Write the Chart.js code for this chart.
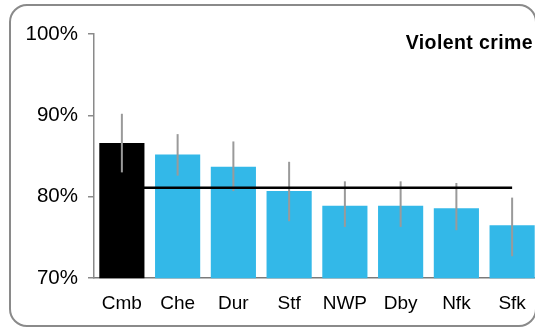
<!DOCTYPE html>
<html>
<head>
<meta charset="utf-8">
<script src="https://cdn.jsdelivr.net/npm/chart.js@4"></script>
<style>
  html, body { margin: 0; padding: 0; background: #fff; overflow: hidden; width: 535px; height: 329px; }
  #frame { position: absolute; left: 9px; top: 4px; width: 524px; height: 319px; border: 2px solid #8a8a8a; border-radius: 18px; }
  #wrap { position: absolute; left: 0; top: 0; width: 550px; height: 329px; }
</style>
</head>
<body>
<div id="frame"></div>
<div id="wrap"><canvas id="c" width="550" height="329"></canvas></div>
<script>
const categories = ['Cmb', 'Che', 'Dur', 'Stf', 'NWP', 'Dby', 'Nfk', 'Sfk'];
const values     = [86.6, 85.2, 83.7, 80.7, 78.9, 78.9, 78.6, 76.5];
const errLow     = [83.0, 82.6, 80.7, 77.0, 76.3, 76.3, 75.9, 72.7];
const errHigh    = [90.2, 87.7, 86.8, 84.3, 81.9, 81.9, 81.7, 79.9];
const average    = [81.1, 81.1, 81.1, 81.1, 81.1, 81.1, 81.1, 81.1];
const yTicks     = [70, 80, 90, 100];
const title      = 'Violent crime';

const FONT = "'Liberation Sans', Arial, sans-serif";
const barColors = categories.map((c, i) => i === 0 ? '#000000' : '#33b8e8');

const errorBars = {
  id: 'errorBars',
  afterDatasetDraw(chart, args) {
    if (args.index !== 0) return;
    const ctx = chart.ctx;
    const y = chart.scales.y;
    const meta = chart.getDatasetMeta(0);
    ctx.save();
    ctx.strokeStyle = '#9a9a9a';
    ctx.lineWidth = 2;
    meta.data.forEach((bar, i) => {
      ctx.beginPath();
      ctx.moveTo(bar.x, y.getPixelForValue(errHigh[i]));
      ctx.lineTo(bar.x, y.getPixelForValue(errLow[i]));
      ctx.stroke();
    });
    ctx.restore();
  }
};

const titlePlugin = {
  id: 'cornerTitle',
  afterDraw(chart) {
    const ctx = chart.ctx;
    ctx.save();
    ctx.font = 'bold 19.5px ' + FONT;
    ctx.fillStyle = '#000';
    ctx.textAlign = 'right';
    ctx.textBaseline = 'alphabetic';
    try { ctx.letterSpacing = '0.4px'; } catch (e) {}
    ctx.fillText(title, 533, 49);
    ctx.restore();
  }
};

new Chart(document.getElementById('c'), {
  data: {
    labels: categories,
    datasets: [
      {
        type: 'bar',
        data: values,
        backgroundColor: barColors,
        borderWidth: 0,
        barPercentage: 0.81,
        categoryPercentage: 1.0,
        order: 1
      },
      {
        type: 'line',
        data: average,
        borderColor: '#000',
        borderWidth: 2.5,
        pointRadius: 0,
        fill: false,
        order: 0
      }
    ]
  },
  plugins: [errorBars, titlePlugin],
  options: {
    responsive: false,
    animation: false,
    events: [],
    layout: { padding: { left: 0, right: 10, top: 34, bottom: 0 } },
    plugins: { legend: { display: false }, tooltip: { enabled: false }, title: { display: false } },
    scales: {
      x: {
        type: 'category',
        grid: { display: false, drawTicks: false },
        border: { display: true, color: '#7a7a7a', width: 1.5 },
        ticks: { color: '#000', font: { family: FONT, size: 19 }, padding: 14, maxRotation: 0, autoSkip: false }
      },
      y: {
        min: 70, max: 100,
        afterFit(scale) { scale.width = 94; },
        afterBuildTicks(scale) { scale.ticks = yTicks.map(v => ({ value: v })); },
        grid: { drawOnChartArea: false, drawTicks: true, tickLength: 6, color: '#8a8a8a', lineWidth: 1.5 },
        border: { display: true, color: '#8a8a8a', width: 1.5 },
        ticks: { color: '#000', font: { family: FONT, size: 20.5 }, padding: 10, callback: v => v + '%' }
      }
    }
  }
});
</script>
</body>
</html>
